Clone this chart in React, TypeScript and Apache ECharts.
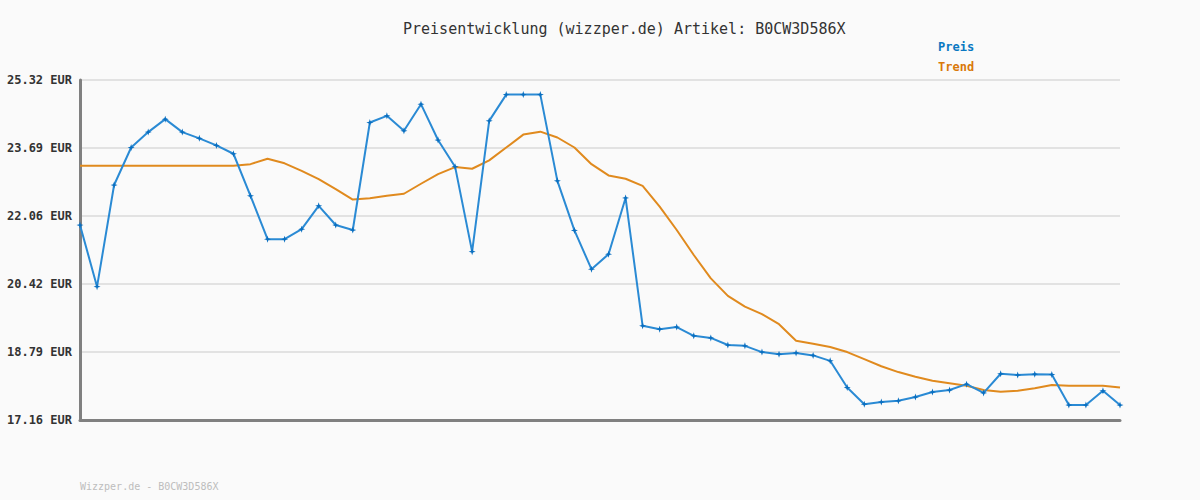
import React, { useEffect, useRef } from "react";
import * as echarts from "echarts";

const BASE = 17.16;
const TOP = 25.32;
const STEP = 1.632;

const preis = [
  21.84, 20.36, 22.8, 23.7, 24.07, 24.38, 24.07, 23.92, 23.75, 23.55,
  22.54, 21.5, 21.5, 21.74, 22.3, 21.84, 21.72, 24.3, 24.46, 24.1,
  24.74, 23.88, 23.24, 21.2, 24.34, 24.97, 24.97, 24.97, 22.9, 21.71,
  20.78, 21.14, 22.49, 19.42, 19.34, 19.39, 19.18, 19.13, 18.96, 18.94,
  18.79, 18.74, 18.77, 18.71, 18.58, 17.94, 17.54, 17.59, 17.62, 17.71,
  17.83, 17.88, 18.02, 17.81, 18.27, 18.24, 18.26, 18.25, 17.52, 17.52,
  17.86, 17.52,
];

const trend = [
  23.26, 23.26, 23.26, 23.26, 23.26, 23.26, 23.26, 23.26, 23.26, 23.26,
  23.3, 23.43, 23.32, 23.14, 22.94, 22.7, 22.45, 22.48, 22.54, 22.59,
  22.83, 23.06, 23.23, 23.19, 23.39, 23.7, 24.01, 24.08, 23.94, 23.7,
  23.3, 23.03, 22.95, 22.78, 22.28, 21.72, 21.12, 20.56, 20.14, 19.88,
  19.7, 19.46, 19.06, 18.99, 18.91, 18.79, 18.62, 18.45, 18.31, 18.2,
  18.1, 18.04, 17.98, 17.88, 17.84, 17.86, 17.92, 18.0, 17.98, 17.98,
  17.98, 17.94,
];

const categories = preis.map((_, i) => String(i + 1));

const titleText = "Preisentwicklung (wizzper.de) Artikel: B0CW3D586X";
const footerText = "Wizzper.de - B0CW3D586X";
const mono = "'DejaVu Sans Mono', monospace";

export default function App() {
  const ref = useRef<HTMLDivElement>(null);

  useEffect(() => {
    document.body.style.margin = "0";
    const chart = echarts.init(ref.current!, null, { renderer: "svg" });
    const star = "path://M0,-4 L1,-1 L4,0 L1,1 L0,4 L-1,1 L-4,0 L-1,-1Z";
    chart.setOption({
      animation: false,
      backgroundColor: "#fafafa",
      title: {
        text: titleText,
        left: 398,
        top: 16,
        textStyle: { fontFamily: mono, fontSize: 15, fontWeight: "normal", color: "#333" },
      },
      legend: {
        orient: "vertical",
        left: 928,
        top: 36,
        itemGap: 8,
        itemWidth: 0,
        itemHeight: 12,
        icon: "none",
        textStyle: { fontFamily: mono, fontSize: 12, fontWeight: "bold" },
        data: [
          { name: "Preis", textStyle: { color: "#0a78c2" } },
          { name: "Trend", textStyle: { color: "#d9790a" } },
        ],
      },
      grid: { left: 80, right: 80, top: 80, bottom: 80, containLabel: false },
      xAxis: {
        type: "category",
        data: categories,
        boundaryGap: false,
        axisLine: { show: true, lineStyle: { color: "#808080", width: 3 } },
        axisTick: { show: false },
        axisLabel: { show: false },
        splitLine: { show: false },
      },
      yAxis: {
        type: "value",
        min: 0,
        max: TOP - BASE,
        interval: STEP,
        axisLine: { show: true, lineStyle: { color: "#808080", width: 3 } },
        axisTick: { show: false },
        axisLabel: {
          fontFamily: mono,
          fontSize: 12,
          fontWeight: "bold",
          color: "#333",
          margin: 8,
          formatter: (v: number) => (v + BASE).toFixed(2) + " EUR",
        },
        splitLine: { show: true, lineStyle: { color: "#e2e2e2", width: 2 } },
      },
      series: [
        {
          name: "Trend",
          type: "line",
          data: trend.map((v) => +(v - BASE).toFixed(4)),
          symbol: "none",
          lineStyle: { color: "#e08a1e", width: 2 },
          itemStyle: { color: "#e08a1e" },
          z: 2,
        },
        {
          name: "Preis",
          type: "line",
          data: preis.map((v) => +(v - BASE).toFixed(4)),
          symbol: star,
          symbolSize: 7,
          lineStyle: { color: "#2a8ad4", width: 2 },
          itemStyle: { color: "#0a6fc0" },
          z: 3,
        },
      ],
      graphic: [
        {
          type: "text",
          left: 80,
          top: 481,
          style: { text: footerText, fontFamily: mono, fontSize: 10, fill: "#bdbdbd" },
        },
      ],
    });
    return () => chart.dispose();
  }, []);

  return <div ref={ref} style={{ width: 1200, height: 500 }} />;
}
